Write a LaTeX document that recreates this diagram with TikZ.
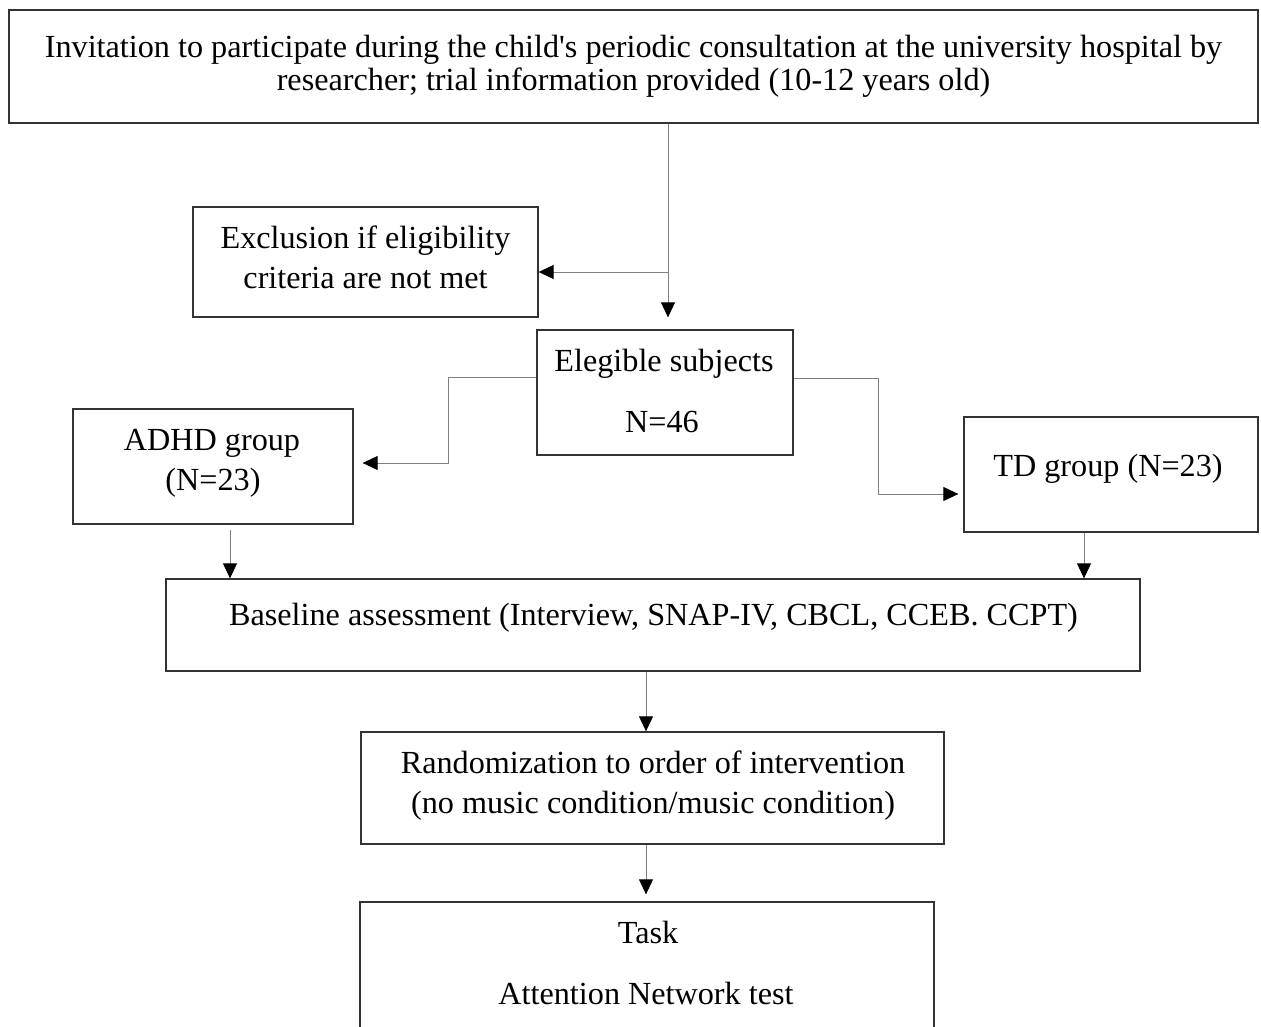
\documentclass[tikz,border=0pt]{standalone}
\usepackage{fontspec}
\setmainfont{Liberation Serif}
\usetikzlibrary{arrows.meta}

\tikzset{
  box/.style={draw=black!80, line width=1.3pt, rectangle, inner sep=0pt, fill=white},
  txt/.style={anchor=base, inner sep=0pt, font=\fontsize{32.2}{36}\selectfont},
  conn/.style={draw=black!50, line width=0.9pt,
    -{Triangle[length=15pt,width=14pt,color=black]}},
  plain/.style={draw=black!50, line width=0.9pt},
}

\begin{document}
\begin{tikzpicture}[x=1pt, y=-1pt]
  \useasboundingbox (0,0) rectangle (1261,1027);
  \clip (0,0) rectangle (1261,1027);
  \fill[white] (0,0) rectangle (1261,1027);

  % boxes
  \node[box, minimum width=1249pt, minimum height=113pt] (top)  at (633.5,66.5) {};
  \node[box, minimum width=345pt,  minimum height=110pt] (excl) at (365.5,262) {};
  \node[box, minimum width=256pt,  minimum height=125pt] (elig) at (665,392.5) {};
  \node[box, minimum width=280pt,  minimum height=115pt] (adhd) at (213,466.5) {};
  \node[box, minimum width=294pt,  minimum height=115pt] (td)   at (1111,474.5) {};
  \node[box, minimum width=974pt,  minimum height=92pt]  (base) at (653,625) {};
  \node[box, minimum width=583pt,  minimum height=112pt] (rand) at (652.5,788) {};
  \node[box, minimum width=574pt,  minimum height=200pt] (task) at (647,1002) {};

  % texts
  \node[txt] (top1)  at (633.5,58) {Invitation to participate during the child\textquotesingle s periodic consultation at the university hospital by};
  \node[txt] (top2)  at (633.5,91) {researcher; trial information provided (10-12 years old)};
  \node[txt] (excl1) at (365.5,248) {Exclusion if eligibility};
  \node[txt] (excl2) at (365.5,288) {criteria are not met};
  \node[txt] (elig1) at (664,371) {Elegible subjects};
  \node[txt] (elig2) at (662,432) {N=46};
  \node[txt] (adhd1) at (212,450) {ADHD group};
  \node[txt] (adhd2) at (213,490) {(N=23)};
  \node[txt] (td1)   at (1108,476) {TD group (N=23)};
  \node[txt] (base1) at (653.5,625) {Baseline assessment (Interview, SNAP-IV, CBCL, CCEB. CCPT)};
  \node[txt] (rand1) at (653,773) {Randomization to order of intervention};
  \node[txt] (rand2) at (653,813) {(no music condition/music condition)};
  \node[txt] (task1) at (648,943) {Task};
  \node[txt] (task2) at (646,1004) {Attention Network test};

  % connectors
  \coordinate (split) at (668,272);
  \draw[plain] (top.south -| split) -- (split);
  \draw[conn, shorten >=12pt] (split) -- (split |- elig.north);
  \draw[conn] (split) -- (split -| excl.east);

  \coordinate (lbend) at (448,377);
  \coordinate (rbend) at (878,378);
  \draw[conn, shorten >=9pt] (elig.west |- lbend) -- (lbend) |- (adhd.east |- 0,463);
  \draw[conn, shorten >=5pt] (elig.east |- rbend) -- (rbend) |- (td.west |- 0,494);

  \draw[conn, shorten <=5pt] (adhd.south -| 230,0) -- (base.north -| 230,0);
  \draw[conn] (td.south -| 1084,0) -- (base.north -| 1084,0);
  \draw[conn] (base.south -| 646,0) -- (rand.north -| 646,0);
  \draw[conn, shorten >=7pt] (rand.south -| 646,0) -- (task.north -| 646,0);
\end{tikzpicture}
\end{document}
